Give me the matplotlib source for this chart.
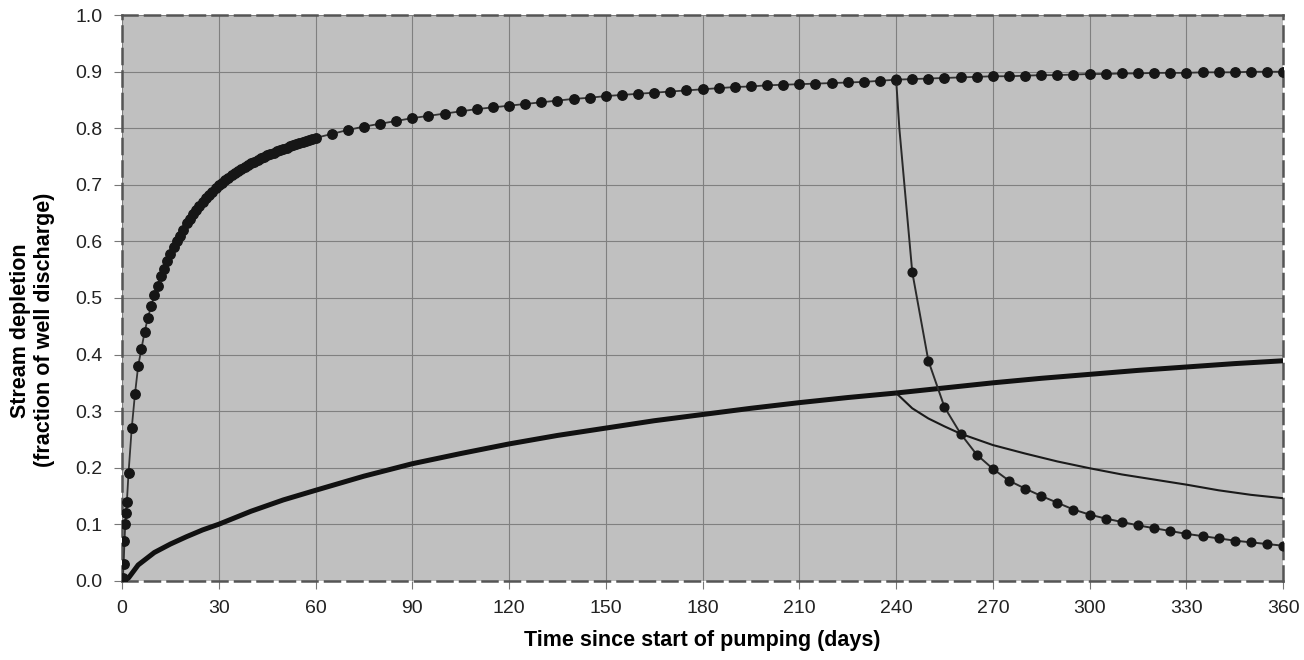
import numpy as np
import matplotlib
matplotlib.use("Agg")
from matplotlib import pyplot as plt

plt.rcParams['font.family'] = ['Liberation Sans', 'DejaVu Sans']

# continuous pumping, stream depletion (dotted markers)
pump_days = [0, 0.25, 0.5, 0.75, 1, 1.25, 1.5, 2, 3, 4, 5, 6, 7, 8, 9, 10,
             11, 12, 13, 14, 15, 16, 17, 18, 19, 20, 21, 22, 23, 24, 25,
             26, 27, 28, 29, 30, 31, 32, 33, 34, 35, 36, 37, 38, 39, 40,
             41, 42, 43, 44, 45, 46, 47, 48, 49, 50, 51, 52, 53, 54, 55,
             56, 57, 58, 59, 60,
             65, 70, 75, 80, 85, 90, 95, 100, 105, 110, 115, 120, 125, 130,
             135, 140, 145, 150, 155, 160, 165, 170, 175, 180, 185, 190, 195,
             200, 205, 210, 215, 220, 225, 230, 235, 240, 245, 250, 255, 260,
             265, 270, 275, 280, 285, 290, 295, 300, 305, 310, 315, 320, 325,
             330, 335, 340, 345, 350, 355, 360]
pump_vals = [0.0, 0.005, 0.03, 0.07, 0.10, 0.12, 0.14, 0.19, 0.27, 0.33, 0.38,
             0.41, 0.44, 0.465, 0.485, 0.505, 0.522, 0.538, 0.552, 0.565, 0.577,
             0.59, 0.60, 0.61, 0.62, 0.632, 0.64, 0.648, 0.656, 0.663, 0.67,
             0.676, 0.682, 0.688, 0.694, 0.70, 0.704, 0.708, 0.713, 0.717, 0.721,
             0.725, 0.728, 0.732, 0.735, 0.738, 0.741, 0.744, 0.747, 0.75, 0.752,
             0.755, 0.757, 0.76, 0.762, 0.764, 0.766, 0.768, 0.77, 0.772, 0.774,
             0.776, 0.778, 0.78, 0.781, 0.783,
             0.790, 0.797, 0.803, 0.808, 0.813, 0.818, 0.822, 0.826, 0.830,
             0.834, 0.837, 0.840, 0.843, 0.846, 0.849, 0.852, 0.854, 0.857,
             0.859, 0.861, 0.863, 0.865, 0.867, 0.869, 0.871, 0.873, 0.874,
             0.876, 0.877, 0.878, 0.879, 0.880, 0.881, 0.882, 0.884, 0.886,
             0.887, 0.888, 0.889, 0.890, 0.891, 0.892, 0.892, 0.893, 0.894,
             0.894, 0.895, 0.896, 0.896, 0.897, 0.897, 0.898, 0.898, 0.898,
             0.899, 0.899, 0.899, 0.900, 0.900, 0.900]

# pumping stopped at day 240 (dotted markers)
stop_days = [240, 241, 245, 250, 255, 260, 265, 270, 275, 280, 285, 290, 295,
             300, 305, 310, 315, 320, 325, 330, 335, 340, 345, 350, 355, 360]
stop_vals = [0.887, 0.80, 0.546, 0.389, 0.307, 0.260, 0.223, 0.198, 0.177,
             0.163, 0.150, 0.138, 0.126, 0.117, 0.110, 0.104, 0.098, 0.093,
             0.088, 0.083, 0.079, 0.075, 0.071, 0.068, 0.065, 0.062]
stop_marked = [0] + list(range(2, len(stop_days)))

# far well, continuous pumping (thick line)
far_days = [0, 2, 5, 10, 15, 20, 25, 30, 40, 50, 60, 75, 90, 105, 120, 135,
            150, 165, 180, 195, 210, 225, 240, 255, 270, 285, 300, 315, 330,
            345, 360]
far_vals = [0.0, 0.005, 0.028, 0.05, 0.065, 0.078, 0.09, 0.10, 0.123, 0.143,
            0.16, 0.185, 0.207, 0.225, 0.242, 0.257, 0.27, 0.283, 0.294,
            0.305, 0.315, 0.324, 0.332, 0.341, 0.35, 0.358, 0.365, 0.372,
            0.378, 0.384, 0.389]

# far well, pumping stopped at day 240 (thin line)
far_stop_days = [240, 245, 250, 255, 260, 270, 280, 290, 300, 310, 320, 330,
                 340, 350, 360]
far_stop_vals = [0.332, 0.305, 0.287, 0.273, 0.26, 0.24, 0.225, 0.211, 0.199,
                 0.188, 0.179, 0.170, 0.160, 0.152, 0.146]

fig = plt.figure(figsize=(13.04, 6.6), dpi=100)
ax = fig.add_axes([0.0936, 0.12, 0.8904, 0.857])
ax.set_facecolor('#c0c0c0')

ax.plot(far_days, far_vals, color='#111111', lw=3.6, solid_capstyle='butt', zorder=3)
ax.plot(far_stop_days, far_stop_vals, color='#1a1a1a', lw=1.5, zorder=3)
ax.plot(pump_days, pump_vals, color='#333333', lw=1.3, marker='o', ms=6.8,
        mfc='#161616', mec='#161616', zorder=4)
ax.plot(stop_days, stop_vals, color='#2a2a2a', lw=1.4, marker='o', ms=6.3,
        mfc='#161616', mec='#161616', markevery=stop_marked, zorder=4)

ax.set_xlim(0, 360)
ax.set_ylim(0, 1.0)
ax.set_xticks(np.arange(0, 361, 30))
ax.set_yticks(np.arange(0, 1.01, 0.1))
ax.set_yticklabels([f"{v:.1f}" for v in np.arange(0, 1.01, 0.1)])
ax.grid(True, color='#808080', lw=0.8)
ax.set_axisbelow(True)
ax.tick_params(axis='both', labelsize=14, colors='#222222', length=6,
               width=0.8, color='#777777', direction='out')
ax.tick_params(axis='x', pad=8)
ax.tick_params(axis='y', pad=8)

for s in ax.spines.values():
    s.set_linestyle((0, (6, 3)))
    s.set_color('#555555')
    s.set_linewidth(1.8)

ax.set_xlabel('Time since start of pumping (days)', fontsize=15.5,
              fontweight='bold', labelpad=9)
ax.set_ylabel('Stream depletion\n(fraction of well discharge)', fontsize=15.5,
              fontweight='bold', va='center')
ax.yaxis.set_label_coords(-0.077, 0.443)

fig.savefig('out.png', dpi=100, facecolor='white')
